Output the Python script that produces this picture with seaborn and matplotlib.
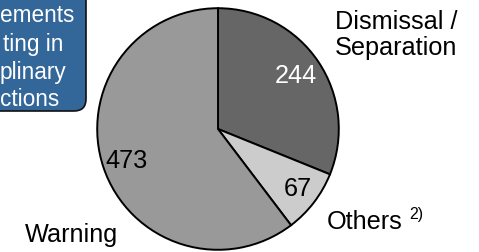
import matplotlib
matplotlib.use("Agg")
import matplotlib.pyplot as plt
import seaborn as sns
from matplotlib.patches import FancyBboxPatch

categories = ["Dismissal /\nSeparation", "Others", "Warning"]
values = [244, 67, 473]
colors = ["#666666", "#cccccc", "#999999"]
value_colors = ["white", "black", "black"]
box_lines = ["ements", "ting in", "plinary", "ctions"]

sns.set_theme(style="white")
plt.rcParams['font.family'] = ['Liberation Sans', 'DejaVu Sans']

W, H = 479, 253
fig = plt.figure(figsize=(W / 100, H / 100), dpi=100)

def fx(x):
    return x / W

def fy(y):
    return 1 - y / H

# pie axes: center (218,130) px, radius 122 px
cx, cy, r = 218, 130, 122
ax = fig.add_axes([fx(cx - r), fy(cy + r), 2 * r / W, 2 * r / H])
wedges, _ = ax.pie(values, colors=colors, startangle=90, counterclock=False,
                   radius=1, wedgeprops=dict(edgecolor="black", linewidth=1.4))
ax.set_xlim(-1.01, 1.01)
ax.set_ylim(-1.01, 1.01)
ax.set_aspect("equal")
ax.axis("off")

fs = 18.2
# value labels
val_pos = [(296, 76), (298, 189), (127, 161)]
for v, (x, y), c in zip(values, val_pos, value_colors):
    fig.text(fx(x), fy(y), str(v), color=c, fontsize=fs, ha="center", va="center")

# category labels
fig.text(fx(335), fy(35), categories[0], fontsize=fs, ha="left", va="center",
         linespacing=1.15, color="black")
fig.text(fx(327), fy(222), categories[1], fontsize=fs, ha="left", va="center", color="black")
fig.text(fx(409), fy(215), "2)", fontsize=11.5, ha="left", va="center", color="black")
fig.text(fx(25), fy(235), categories[2], fontsize=fs, ha="left", va="center", color="black")

# blue note box at top-left (partially cut off), drawn in inches (1 in = 100 px)
box = FancyBboxPatch((-1.2, (H - 112) / 100), 1.2 + 0.86, 1.3,
                     transform=fig.dpi_scale_trans,
                     boxstyle="round,pad=0,rounding_size=0.12",
                     facecolor="#336699", edgecolor="#111111", linewidth=1.2,
                     clip_on=False)
fig.patches.append(box)
box_x = [0, 3, 0, 0]
for i, line in enumerate(box_lines):
    fig.text(fx(box_x[i]), fy(16 + 28 * i), line, color="white", fontsize=16.3,
             ha="left", va="center")

fig.savefig("out.png", dpi=100)
